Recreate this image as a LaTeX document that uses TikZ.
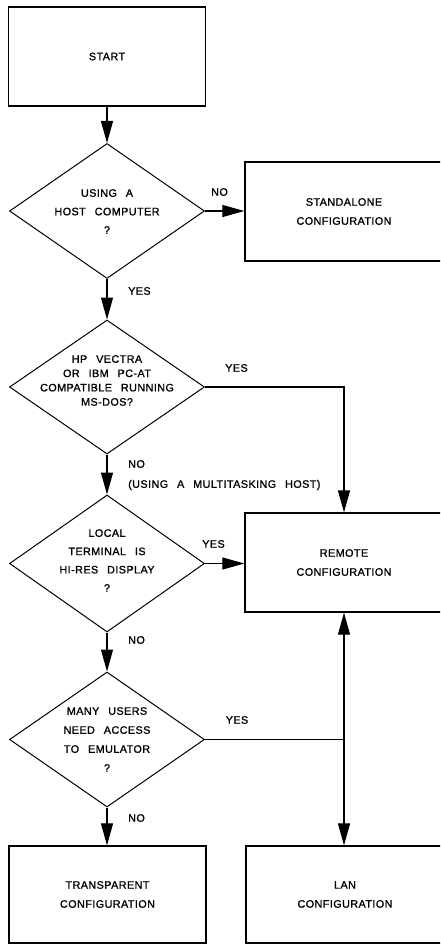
\documentclass[tikz,border=0pt]{standalone}
\usepackage{fontspec}
\setmainfont{Liberation Sans}[WordSpace=2.6, LetterSpace=4, FakeBold=1.2]
\usetikzlibrary{shapes.geometric,arrows.meta}

\begin{document}
\begin{tikzpicture}[x=1pt,y=-1pt,
  every node/.style={font=\fontsize{10.8}{19}\selectfont},
  box/.style={draw, line width=1.3pt, minimum width=197pt, minimum height=99pt,
              inner sep=0pt, align=center},
  decision/.style={draw, diamond, line width=1pt, minimum width=195pt,
              minimum height=135pt, inner sep=0pt},
  dtext/.style={align=center, inner sep=0pt},
  lbl/.style={inner sep=0pt},
  flow/.style={line width=1.2pt, -{Triangle[length=22pt,width=12pt]}},
  wire/.style={line width=1.2pt}
]
\path[use as bounding box, clip] (0,0) rectangle (440,944);

% boxes and decisions
\node[box] (start) at (107,56.5) {START};

\node[decision] (d1) at (107,211) {};
\node[dtext, font=\fontsize{10.8}{18.5}\selectfont] (d1t) at (107,211.5)
  {USING A\\HOST COMPUTER\\?};

\node[box, minimum width=198pt] (stand) at (344,211.5) {STANDALONE\\CONFIGURATION};

\node[decision, minimum height=134pt] (d2) at (107,387) {};
\node[dtext, font=\fontsize{10.8}{14.3}\selectfont] (d2t) at (107,380.5)
  {HP VECTRA\\OR IBM PC-AT\\COMPATIBLE RUNNING\\MS-DOS?};

\node[decision, minimum height=137pt] (d3) at (107,563.5) {};
\node[dtext, font=\fontsize{10.8}{18.3}\selectfont] (d3t) at (107,560.5)
  {LOCAL\\TERMINAL IS\\HI-RES DISPLAY\\?};

\node[box, minimum width=198pt] (remote) at (344,562.5) {REMOTE\\CONFIGURATION};

\node[decision] (d4) at (107,739.5) {};
\node[dtext] (d4t) at (107,739.5) {MANY USERS\\NEED ACCESS\\TO EMULATOR\\?};

\node[box, minimum height=97pt] (trans) at (107.5,894.5) {TRANSPARENT\\CONFIGURATION};
\node[box, minimum width=198pt, minimum height=97pt] (lan) at (345,894.5) {LAN\\CONFIGURATION};

% connectors
\draw[flow] (start.south) -- (d1.north);
\draw[flow] (d1.east) -- (d1.east -| stand.west);
\draw[flow] (d1.south) -- (d2.north);
\draw[flow] (d2.east) -| (remote.north);
\draw[flow] (d2.south) -- (d3.north);
\draw[flow] (d3.east) -- (d3.east -| remote.west);
\draw[flow] (d3.south) -- (d4.north);
\draw[flow] (d4.south) -- (d4.south |- trans.north);
\coordinate (j) at (d4.east -| remote.south);
\draw[wire] (d4.east) -- (j);
\draw[flow] (j) -- (remote.south);
\draw[flow] (j) -- (j |- lan.north);

% branch labels
\node[lbl] (no1) at (219.5,192) {NO};
\node[lbl, anchor=west] (yes1) at (128,291) {YES};
\node[lbl] (yes2) at (236.5,368) {YES};
\node[lbl, anchor=west] (no2) at (128,464) {NO};
\node[lbl, anchor=west] (multi) at (128,485) {(USING A MULTITASKING HOST)};
\node[lbl] (yes3) at (213.5,544) {YES};
\node[lbl, anchor=west] (no3) at (128,640) {NO};
\node[lbl] (yes4) at (237,720) {YES};
\node[lbl, anchor=west] (no4) at (128,818) {NO};
\end{tikzpicture}
\end{document}
